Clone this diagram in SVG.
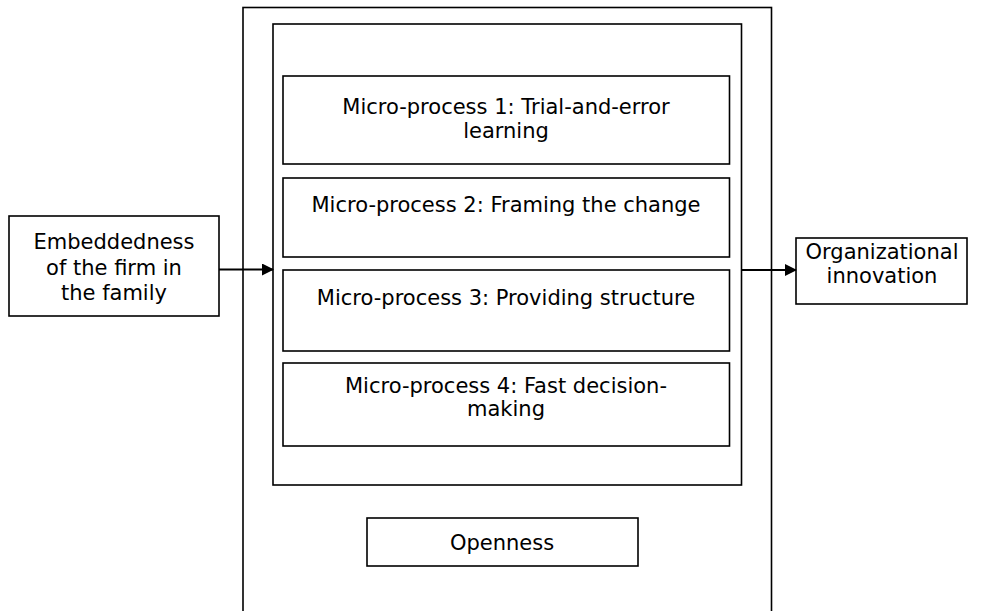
<svg xmlns="http://www.w3.org/2000/svg" width="984" height="611" viewBox="0 0 984 611">
  <defs>
    <marker id="arrow" markerWidth="12" markerHeight="12" refX="11" refY="6" orient="auto" markerUnits="userSpaceOnUse" viewBox="0 0 12 12">
      <path d="M0,0 L12,6 L0,12 Z" fill="#000"/>
    </marker>
  </defs>
  <style>
    .box { fill: #fff; stroke: #000; stroke-width: 1.6; }
    .lbl { font-family: "DejaVu Sans", Verdana, sans-serif; font-size: 21px; fill: #000; text-anchor: middle; }
    .conn { stroke: #000; stroke-width: 2; fill: none; }
  </style>
  <rect width="984" height="611" fill="#fff"/>

  <!-- outer frame: openness context -->
  <g id="context">
    <rect class="box" x="243" y="7.5" width="528.5" height="610"/>
  </g>
  <!-- frame holding the four micro-processes -->
  <g id="micro-processes">
    <rect class="box" x="273" y="24" width="468.5" height="461"/>
  </g>

  <g id="mp1">
    <rect class="box" x="283" y="76" width="446.5" height="88"/>
    <text class="lbl" x="506" y="114">Micro-process 1: Trial-and-error</text>
    <text class="lbl" x="506" y="138">learning</text>
  </g>
  <g id="mp2">
    <rect class="box" x="283" y="178" width="446.5" height="79"/>
    <text class="lbl" x="506" y="212">Micro-process 2: Framing the change</text>
  </g>
  <g id="mp3">
    <rect class="box" x="283" y="270" width="446.5" height="81"/>
    <text class="lbl" x="506" y="305">Micro-process 3: Providing structure</text>
  </g>
  <g id="mp4">
    <rect class="box" x="283" y="363" width="446.5" height="83"/>
    <text class="lbl" x="506" y="393">Micro-process 4: Fast decision-</text>
    <text class="lbl" x="506" y="416">making</text>
  </g>

  <g id="openness">
    <rect class="box" x="367" y="518" width="271" height="48"/>
    <text class="lbl" x="502" y="550">Openness</text>
  </g>

  <g id="embeddedness">
    <rect class="box" x="9" y="216" width="210" height="100"/>
    <text class="lbl" x="114" y="249">Embeddedness</text>
    <text class="lbl" x="114" y="275">of the firm in</text>
    <text class="lbl" x="114" y="300">the family</text>
  </g>

  <g id="innovation">
    <rect class="box" x="796" y="238" width="171" height="66"/>
    <text class="lbl" x="882" y="259">Organizational</text>
    <text class="lbl" x="882" y="283">innovation</text>
  </g>

  <g id="connectors">
    <line class="conn" x1="219" y1="269.5" x2="273" y2="269.5" marker-end="url(#arrow)"/>
    <line class="conn" x1="741.5" y1="270" x2="796" y2="270" marker-end="url(#arrow)"/>
  </g>
</svg>
